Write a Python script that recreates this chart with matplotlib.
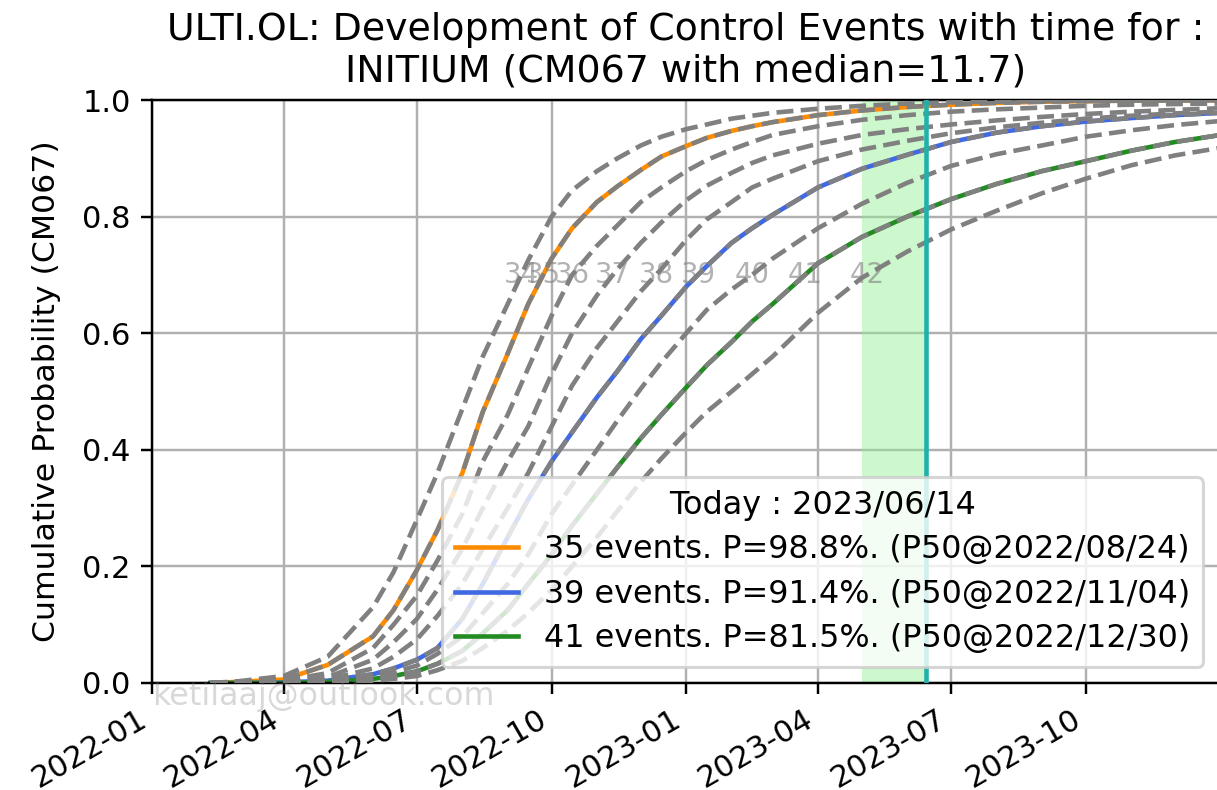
import datetime as dt
import numpy as np
import matplotlib
matplotlib.use("Agg")
import matplotlib.pyplot as plt
import matplotlib.dates as mdates

# ---------------- data ----------------
date_strings = ["2022-02-10", "2022-03-01", "2022-04-01", "2022-05-01", "2022-06-01",
                "2022-06-15", "2022-07-01", "2022-07-15", "2022-08-01", "2022-08-15",
                "2022-09-01", "2022-09-15", "2022-10-01", "2022-10-15", "2022-11-01",
                "2022-11-15", "2022-12-01", "2022-12-15", "2023-01-01", "2023-01-15",
                "2023-02-01", "2023-02-15", "2023-03-01", "2023-04-01", "2023-05-01",
                "2023-06-01", "2023-07-01", "2023-08-01", "2023-09-01", "2023-10-01",
                "2023-11-01", "2023-12-01", "2024-01-01"]

p34 = [0, 0.003, 0.012, 0.045, 0.13, 0.19, 0.28, 0.36, 0.47, 0.56,
       0.65, 0.725, 0.80, 0.845, 0.878, 0.90, 0.922, 0.937, 0.95, 0.958,
       0.968, 0.973, 0.978, 0.985, 0.99, 0.994, 0.996, 0.997, 0.998, 0.999,
       0.999, 0.9995, 0.9997]
p35 = [0, 0.002, 0.006, 0.031, 0.08, 0.125, 0.194, 0.262, 0.36, 0.465,
       0.565, 0.65, 0.728, 0.78, 0.825, 0.852, 0.88, 0.903, 0.921, 0.935,
       0.947, 0.955, 0.962, 0.974, 0.982, 0.988, 0.992, 0.995, 0.997, 0.998,
       0.999, 0.999, 0.9995]
p36 = [0, 0.001, 0.004, 0.017, 0.06, 0.10, 0.15, 0.21, 0.29, 0.38,
       0.46, 0.54, 0.63, 0.70, 0.75, 0.785, 0.825, 0.85, 0.878, 0.897,
       0.915, 0.928, 0.94, 0.955, 0.966, 0.974, 0.98, 0.984, 0.987, 0.99,
       0.992, 0.993, 0.994]
p37 = [0, 0, 0.002, 0.01, 0.04, 0.07, 0.11, 0.16, 0.23, 0.30,
       0.38, 0.44, 0.53, 0.60, 0.665, 0.71, 0.755, 0.79, 0.828, 0.853,
       0.875, 0.892, 0.905, 0.925, 0.94, 0.95, 0.958, 0.965, 0.971, 0.976,
       0.98, 0.983, 0.986]
p38 = [0, 0, 0.001, 0.006, 0.025, 0.045, 0.075, 0.115, 0.17, 0.23,
       0.30, 0.36, 0.44, 0.51, 0.575, 0.62, 0.672, 0.71, 0.76, 0.795,
       0.825, 0.85, 0.865, 0.895, 0.915, 0.93, 0.943, 0.953, 0.961, 0.968,
       0.973, 0.977, 0.98]
p39 = [0, 0, 0.001, 0.004, 0.015, 0.025, 0.04, 0.06, 0.11, 0.17,
       0.25, 0.315, 0.38, 0.43, 0.49, 0.535, 0.59, 0.63, 0.68, 0.715,
       0.755, 0.78, 0.803, 0.85, 0.882, 0.906, 0.928, 0.944, 0.955, 0.963,
       0.969, 0.974, 0.978]
p40 = [0, 0, 0, 0.002, 0.01, 0.018, 0.03, 0.05, 0.08, 0.12,
       0.17, 0.22, 0.29, 0.34, 0.40, 0.45, 0.505, 0.55, 0.60, 0.64,
       0.675, 0.70, 0.728, 0.78, 0.822, 0.858, 0.887, 0.907, 0.922, 0.937,
       0.948, 0.957, 0.964]
p41 = [0, 0, 0, 0.002, 0.007, 0.012, 0.02, 0.033, 0.055, 0.085,
       0.125, 0.17, 0.22, 0.27, 0.325, 0.37, 0.42, 0.46, 0.507, 0.545,
       0.585, 0.62, 0.65, 0.72, 0.765, 0.80, 0.83, 0.856, 0.878, 0.895,
       0.913, 0.928, 0.94]
p42 = [0, 0, 0, 0.001, 0.004, 0.007, 0.012, 0.022, 0.038, 0.06,
       0.09, 0.12, 0.16, 0.20, 0.25, 0.295, 0.345, 0.385, 0.43, 0.465,
       0.50, 0.53, 0.56, 0.635, 0.695, 0.74, 0.778, 0.81, 0.84, 0.865,
       0.888, 0.905, 0.918]

event_counts = [34, 35, 36, 37, 38, 39, 40, 41, 42]
curves = [p34, p35, p36, p37, p38, p39, p40, p41, p42]

highlight_events = [35, 39, 41]
highlight_labels = ["35 events. P=98.8%. (P50@2022/08/24)",
                    "39 events. P=91.4%. (P50@2022/11/04)",
                    "41 events. P=81.5%. (P50@2022/12/30)"]
highlight_colors = ["darkorange", "royalblue", "forestgreen"]

today = "2023-06-14"
window_start = "2023-05-01"
x_start, x_end = "2022-01-01", "2023-12-31"
label_level = 0.7

title = "ULTI.OL: Development of Control Events with time for :\nINITIUM (CM067 with median=11.7)"
ylabel = "Cumulative Probability (CM067)"
legend_title = "Today : 2023/06/14"
watermark = "ketilaaj@outlook.com"

# ---------------- plot ----------------
def d(s):
    return dt.datetime.strptime(s, "%Y-%m-%d")

dates = [d(s) for s in date_strings]
xnum = mdates.date2num(dates)

fig = plt.figure(figsize=(1217 / 220, 790 / 220), dpi=220)
ax = fig.add_axes([152 / 1217, 1 - 683 / 790, (1219 - 152) / 1217, (683 - 100) / 790])

# coloured solid lines underneath
for ev, lab, col in zip(highlight_events, highlight_labels, highlight_colors):
    ax.plot(dates, curves[event_counts.index(ev)], color=col, lw=1.5, label=lab, zorder=2)

# gray dashed lines on top
for ev, ys in zip(event_counts, curves):
    ax.plot(dates, ys, color="gray", lw=1.5, ls="--", zorder=3)
    xl = np.interp(label_level, ys, xnum)
    ax.text(mdates.num2date(xl), label_level, str(ev), color="gray", alpha=0.6,
            fontsize=9, ha="center", va="center", zorder=4)

ax.axvspan(d(window_start), d(today), color="lightgreen", alpha=0.45, lw=0, zorder=1)
ax.axvline(d(today), color="lightseagreen", lw=1.5, zorder=4)

ax.set_xlim(d(x_start), d(x_end))
ax.set_ylim(0, 1)
ax.xaxis.set_major_locator(mdates.MonthLocator(bymonth=[1, 4, 7, 10]))
ax.xaxis.set_major_formatter(mdates.DateFormatter("%Y-%m"))
for t in ax.get_xticklabels():
    t.set_rotation(30)
    t.set_ha("right")
ax.grid(True)
ax.set_axisbelow(True)
ax.set_ylabel(ylabel, fontsize=10.3, labelpad=7)
ax.set_title(title, fontsize=12.4)
ax.legend(loc="lower right", title=legend_title, fontsize=10.45, title_fontsize=10.45,
          labelspacing=0.42)

fig.text(152 / 1217, 1 - 697 / 790, watermark, color="gray", alpha=0.3,
         fontsize=10.4, ha="left", va="center")

fig.savefig("out.png", dpi=220)
